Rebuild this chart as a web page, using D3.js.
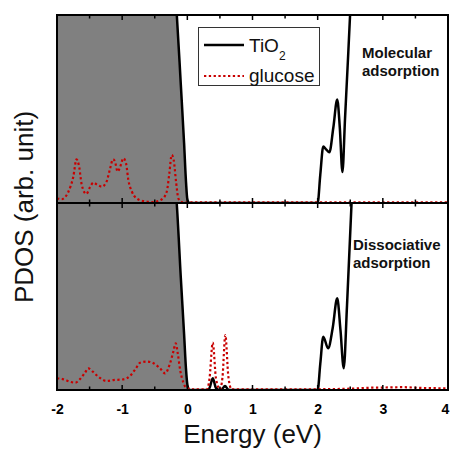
<!DOCTYPE html>
<html>
<head>
<meta charset="utf-8">
<script src="https://cdn.jsdelivr.net/npm/d3@7"></script>
<style>
  body { margin: 0; background: #fff; }
  svg { display: block; font-family: Arial, "Liberation Sans", sans-serif; }
</style>
</head>
<body>
<svg id="chart" width="450" height="450"></svg>
<script>
// energy axis
const energyTicks = [-2, -1, 0, 1, 2, 3, 4];

// TiO2, molecular adsorption (top panel)
const tio2MolE = [-2, -0.6, -0.25, -0.17, -0.1, -0.05, -0.02, 0, 0.03, 1.97, 2.0, 2.04, 2.086, 2.13, 2.18, 2.24, 2.30, 2.34, 2.38, 2.42, 2.46, 2.5, 2.6, 4];
const tio2MolV = [40, 40, 14, 10.5, 6.3, 3.2, 1.1, 0.2, 0, 0, 0, 1.5, 3.0, 2.85, 2.7, 4.0, 5.5, 4.0, 1.65, 4.5, 7.3, 10.2, 20, 40];

// glucose, molecular adsorption
const gluMolE = [-2, -1.93, -1.825, -1.75, -1.70, -1.66, -1.62, -1.55, -1.49, -1.44, -1.38, -1.31, -1.24, -1.19, -1.14, -1.11, -1.07, -1.03, -0.98, -0.94, -0.905, -0.85, -0.78, -0.67, -0.52, -0.39, -0.316, -0.276, -0.24, -0.21, -0.173, -0.138, -0.09, 0, 1, 2, 3, 4];
const gluMolV = [0.25, 0.2, 0.6, 1.4, 2.32, 1.93, 0.96, 0.48, 0.87, 1.08, 0.96, 0.87, 1.13, 1.76, 2.32, 2.2, 1.67, 1.93, 2.38, 2.1, 1.22, 0.6, 0.25, 0.1, 0.05, 0.2, 0.6, 1.58, 2.55, 2.3, 1.13, 0.25, 0.05, 0.03, 0.03, 0.03, 0.04, 0.04];

// TiO2, dissociative adsorption (bottom panel)
const tio2DisE = [-2, -0.6, -0.25, -0.163, -0.1, -0.05, -0.02, 0, 0.03, 0.3, 0.34, 0.39, 0.44, 0.48, 0.52, 0.578, 0.63, 0.67, 1.97, 2.0, 2.04, 2.086, 2.16, 2.23, 2.30, 2.35, 2.40, 2.45, 2.52, 2.6, 4];
const tio2DisV = [40, 40, 13, 10, 6.0, 3.0, 1.1, 0.3, 0, 0, 0.1, 0.63, 0.1, 0.02, 0.02, 0.21, 0.02, 0, 0, 0, 1.4, 2.85, 2.23, 3.3, 4.9, 3.2, 1.16, 4.5, 10, 17, 40];

// glucose, dissociative adsorption
const gluDisE = [-2, -1.9, -1.8, -1.72, -1.65, -1.57, -1.52, -1.45, -1.365, -1.24, -1.135, -0.98, -0.88, -0.80, -0.725, -0.62, -0.52, -0.42, -0.34, -0.265, -0.215, -0.178, -0.147, -0.11, -0.06, -0.01, 0.1, 0.3, 0.34, 0.39, 0.44, 0.5, 0.54, 0.583, 0.63, 0.68, 1, 1.5, 2, 2.5, 2.8, 3.0, 3.3, 3.6, 4];
const gluDisV = [0.63, 0.57, 0.44, 0.39, 0.57, 0.93, 1.16, 0.98, 0.71, 0.48, 0.53, 0.57, 0.75, 1.1, 1.46, 1.52, 1.43, 1.16, 0.89, 1.43, 2.05, 2.5, 1.96, 1.07, 0.39, 0.1, 0.03, 0.03, 0.6, 2.53, 0.6, 0.03, 0.7, 2.94, 0.7, 0.03, 0.03, 0.03, 0.04, 0.07, 0.12, 0.13, 0.15, 0.11, 0.09];

const panelLabels = [['Molecular', 'adsorption'], ['Dissociative', 'adsorption']];
const legendNames = ['TiO', 'glucose'];

const svg = d3.select('#chart');
const plotLeft = 57, plotRight = 448, plotTop = 15, plotMid = 203, plotBottom = 390;
const gluColor = '#c80000';

const x = d3.scaleLinear().domain([-2, 4]).range([plotLeft, plotRight]);

const panels = [
  { y0: plotTop, y1: plotMid, tE: tio2MolE, tV: tio2MolV, gE: gluMolE, gV: gluMolV, label: panelLabels[0], lx: 362, ly: 58 },
  { y0: plotMid, y1: plotBottom, tE: tio2DisE, tV: tio2DisV, gE: gluDisE, gV: gluDisV, label: panelLabels[1], lx: 353, ly: 250 }
];

const zip = (es, vs) => es.map((e, i) => ({ e: e, v: vs[i] }));

panels.forEach(function(p, k) {
  const y = d3.scaleLinear().domain([0, 10]).range([p.y1, p.y0]);
  const clipId = 'clip' + k;
  svg.append('clipPath').attr('id', clipId)
    .append('rect')
    .attr('x', plotLeft).attr('y', p.y0)
    .attr('width', plotRight - plotLeft).attr('height', p.y1 - p.y0);

  const g = svg.append('g').attr('clip-path', 'url(#' + clipId + ')');
  const tio2 = zip(p.tE, p.tV);
  const glu = zip(p.gE, p.gV);

  // occupied states shaded
  const area = d3.area()
    .x(d => x(d.e)).y0(y(0)).y1(d => y(d.v))
    .curve(d3.curveMonotoneX);
  g.append('path')
    .datum(tio2.filter(d => d.e <= 0.03))
    .attr('d', area)
    .attr('fill', '#808080');

  const line = d3.line()
    .x(d => x(d.e)).y(d => y(d.v))
    .curve(d3.curveMonotoneX);

  g.append('path')
    .datum(tio2)
    .attr('d', line)
    .attr('fill', 'none')
    .attr('stroke', '#000')
    .attr('stroke-width', 2.5);

  g.append('path')
    .datum(glu)
    .attr('d', line)
    .attr('fill', 'none')
    .attr('stroke', gluColor)
    .attr('stroke-width', 2.2)
    .attr('stroke-dasharray', '2.3,2.5');

  // inward ticks, top and bottom of each panel
  const ticks = d3.range(-2, 4.01, 0.5);
  const tg = svg.append('g');
  ticks.forEach(function(t) {
    const len = Number.isInteger(t) ? 5 : 3.5;
    tg.append('line')
      .attr('x1', x(t)).attr('x2', x(t))
      .attr('y1', p.y0).attr('y2', p.y0 + len)
      .attr('stroke', '#000').attr('stroke-width', 1.5);
    tg.append('line')
      .attr('x1', x(t)).attr('x2', x(t))
      .attr('y1', p.y1).attr('y2', p.y1 - len)
      .attr('stroke', '#000').attr('stroke-width', 1.5);
  });

  svg.append('rect')
    .attr('x', plotLeft).attr('y', p.y0)
    .attr('width', plotRight - plotLeft).attr('height', p.y1 - p.y0)
    .attr('fill', 'none')
    .attr('stroke', '#000')
    .attr('stroke-width', 2);

  const lt = svg.append('text')
    .attr('x', p.lx).attr('y', p.ly)
    .attr('font-size', 15).attr('font-weight', 'bold')
    .attr('fill', '#111');
  p.label.forEach(function(s, i) {
    lt.append('tspan').attr('x', p.lx).attr('dy', i === 0 ? 0 : 17.5).text(s);
  });
});

// bottom axis labels (plain hyphen minus, as in the figure)
const axis = d3.axisBottom(x).tickValues(energyTicks).tickSize(0).tickPadding(0)
  .tickFormat(d => String(d));
const ax = svg.append('g').attr('transform', 'translate(0,' + plotBottom + ')').call(axis);
ax.select('.domain').remove();
ax.selectAll('text')
  .attr('y', 24).attr('dy', 0)
  .attr('font-size', 14).attr('font-weight', 'bold')
  .attr('font-family', 'Arial, "Liberation Sans", sans-serif')
  .attr('fill', '#000');
// keep the last label inside the window
ax.selectAll('text').filter(d => d === 4).attr('x', -3);

svg.append('text')
  .attr('x', (plotLeft + plotRight) / 2).attr('y', 443)
  .attr('text-anchor', 'middle')
  .attr('font-size', 26)
  .attr('fill', '#111')
  .text('Energy (eV)');

svg.append('text')
  .attr('transform', 'translate(33,207) rotate(-90)')
  .attr('text-anchor', 'middle')
  .attr('font-size', 26)
  .attr('fill', '#111')
  .text('PDOS (arb. unit)');

// legend
const lg = svg.append('g');
lg.append('rect')
  .attr('x', 198.5).attr('y', 27.5).attr('width', 121).attr('height', 58)
  .attr('fill', '#fff').attr('stroke', '#333').attr('stroke-width', 1);
lg.append('line')
  .attr('x1', 204).attr('x2', 244).attr('y1', 45).attr('y2', 45)
  .attr('stroke', '#000').attr('stroke-width', 2.5);
lg.append('line')
  .attr('x1', 204).attr('x2', 244).attr('y1', 76).attr('y2', 76)
  .attr('stroke', gluColor).attr('stroke-width', 2.2)
  .attr('stroke-dasharray', '2.3,2.5');
const t1 = lg.append('text').attr('x', 249).attr('y', 52).attr('font-size', 19).attr('fill', '#111');
t1.append('tspan').text(legendNames[0]);
t1.append('tspan').attr('font-size', 12).attr('dy', 8).text('2');
lg.append('text').attr('x', 249).attr('y', 82).attr('font-size', 19).attr('fill', '#111').text(legendNames[1]);
</script>
</body>
</html>
